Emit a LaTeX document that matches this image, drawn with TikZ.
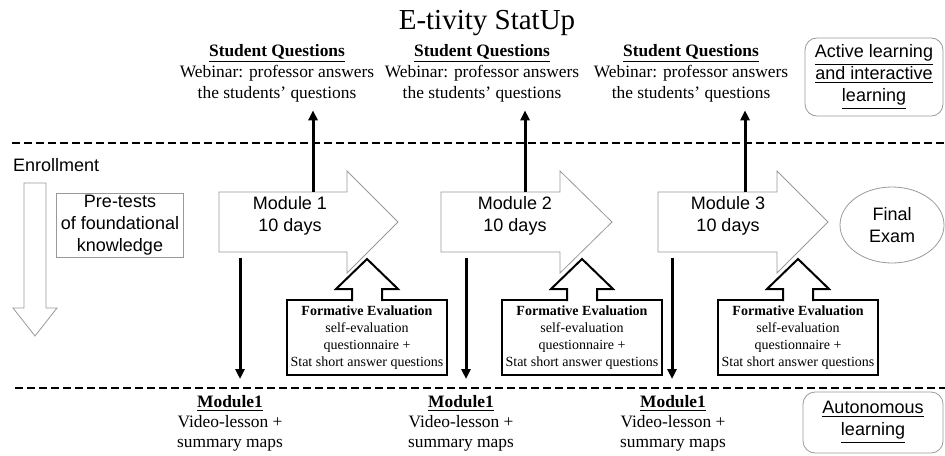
\documentclass[tikz,border=0pt]{standalone}
\usepackage{fontspec}
\setmainfont{Liberation Serif}
\setsansfont{Liberation Sans}
\usetikzlibrary{shapes.geometric,arrows.meta,calc}

\begin{document}
\begin{tikzpicture}[x=0.5pt,y=-0.5pt,
    serif/.style={align=center,inner sep=0pt,font=\fontsize{8.7}{10.5}\selectfont},
    sans/.style={align=center,font=\sffamily\fontsize{9}{11}\selectfont},
    graybox/.style={draw=gray!80,line width=0.4pt},
    modarrow/.style={draw=gray!80,fill=white,line width=0.4pt},
    flow/.style={line width=1.5pt,-{Triangle[length=5pt,width=4.5pt]}},
    divider/.style={line width=1pt,dash pattern=on 4pt off 2pt},
    evalbox/.style={draw,line width=1pt,fill=white,minimum width=80pt,minimum height=37.5pt,
      inner sep=0.5pt,align=center,font=\fontsize{7}{8.5}\selectfont}]

    \useasboundingbox (0,0) rectangle (945,455);

    % Title
    \node[font=\fontsize{14.5}{17}\selectfont] (title) at (487,23) {E-tivity StatUp};

    % Dashed separators
    \coordinate (topL) at (12,143);
    \coordinate (topR) at (945,143);
    \coordinate (botL) at (15,388);
    \coordinate (botR) at (945,388);
    \draw[divider] (topL) -- (topR);
    \draw[divider] (botL) -- (botR);

    % Student questions (top row)
    \node[serif] (sq1) at (277,73) {\textbf{\underline{Student Questions}}\\Webinar: professor answers\\the students' questions};
    \node[serif] (sq2) at (482,73) {\textbf{\underline{Student Questions}}\\Webinar: professor answers\\the students' questions};
    \node[serif] (sq3) at (691,73) {\textbf{\underline{Student Questions}}\\Webinar: professor answers\\the students' questions};

    % Active learning label
    \node[graybox,rounded corners=6pt,sans,minimum width=69pt,minimum height=38pt] (active) at (874,77)
      {\underline{Active learning}\\\underline{and interactive}\\\underline{learning}};

    % Enrollment
    \node[sans,anchor=west] (enroll) at (6,165) {Enrollment};
    \draw[modarrow] (24,183) -- (46,183) -- (46,308) -- (57,308) -- (35,336) -- (13,308) -- (24,308) -- cycle;
    \node[graybox,sans,minimum width=63.5pt,minimum height=32pt,inner sep=1pt] (pre) at (120,225)
      {Pre-tests\\of foundational\\knowledge};

    % Module 1
    \draw[modarrow] (219,192) -- (347,192) -- (347,171) -- (398,222) -- (347,273) -- (347,252) -- (219,252) -- cycle;
    \node[sans] (m1) at (290,216) {Module 1\\10 days};
    \coordinate (m1up) at (313,192);
    \coordinate (m1down) at (240,258);

    % Module 2
    \draw[modarrow] (441,192) -- (560,192) -- (560,171) -- (612,222) -- (560,273) -- (560,252) -- (441,252) -- cycle;
    \node[sans] (m2) at (515,216) {Module 2\\10 days};
    \coordinate (m2up) at (525,192);
    \coordinate (m2down) at (466,258);

    % Module 3
    \draw[modarrow] (658,192) -- (777,192) -- (777,171) -- (828,222) -- (777,273) -- (777,252) -- (658,252) -- cycle;
    \node[sans] (m3) at (728,216) {Module 3\\10 days};
    \coordinate (m3up) at (745,192);
    \coordinate (m3down) at (672,258);

    % Final exam
    \node[graybox,ellipse,sans,minimum width=52pt,minimum height=38pt,inner sep=0pt] (exam) at (892,225) {Final\\Exam};

    % Formative evaluation boxes
    \node[evalbox] (fe1) at (367,337.5) {\textbf{Formative Evaluation}\\self-evaluation\\questionnaire +\\Stat short answer questions};
    \node[evalbox] (fe2) at (582,337.5) {\textbf{Formative Evaluation}\\self-evaluation\\questionnaire +\\Stat short answer questions};
    \node[evalbox] (fe3) at (798,337.5) {\textbf{Formative Evaluation}\\self-evaluation\\questionnaire +\\Stat short answer questions};
    \foreach \fe in {fe1,fe2,fe3}
      \draw[line width=1pt,fill=white] ($(\fe.north)+(-15,2)$) -- ++(0,-12) -- ++(-16,0)
        -- ($(\fe.north)+(0,-40)$) -- ($(\fe.north)+(31,-10)$) -- ++(-16,0) -- ++(0,12);

    % Video lessons (bottom row)
    \node[serif,font=\fontsize{8.7}{10}\selectfont] (mv1) at (230,423) {\textbf{\underline{Module1}}\\Video-lesson +\\summary maps};
    \node[serif,font=\fontsize{8.7}{10}\selectfont] (mv2) at (461,423) {\textbf{\underline{Module1}}\\Video-lesson +\\summary maps};
    \node[serif,font=\fontsize{8.7}{10}\selectfont] (mv3) at (673,423) {\textbf{\underline{Module1}}\\Video-lesson +\\summary maps};

    % Autonomous learning label
    \node[graybox,rounded corners=6pt,sans,minimum width=70pt,minimum height=30.5pt] (auto) at (873,422.5)
      {\underline{Autonomous}\\\underline{learning}};

    % Thick arrows
    \draw[flow] (m1up) -- ([yshift=-4pt]sq1.south -| m1up);
    \draw[flow] (m2up) -- ([yshift=-4pt]sq2.south -| m2up);
    \draw[flow] (m3up) -- ([yshift=-4pt]sq3.south -| m3up);
    \draw[flow,shorten >=4.5pt] (m1down) -- (m1down |- botL);
    \draw[flow,shorten >=4.5pt] (m2down) -- (m2down |- botL);
    \draw[flow,shorten >=4.5pt] (m3down) -- (m3down |- botL);
\end{tikzpicture}
\end{document}
